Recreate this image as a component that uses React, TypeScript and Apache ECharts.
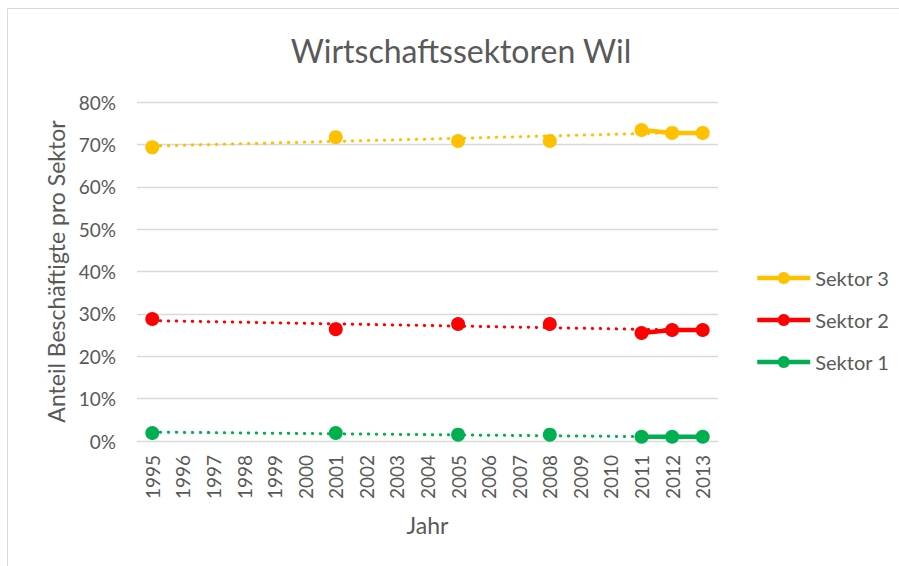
import React, { useEffect, useRef } from "react";
import * as echarts from "echarts";

const years = ["1995","1996","1997","1998","1999","2000","2001","2002","2003","2004","2005","2006","2007","2008","2009","2010","2011","2012","2013"];
const sektor3 = [69.3,null,null,null,null,null,71.7,null,null,null,70.8,null,null,70.8,null,null,73.4,72.7,72.7];
const sektor2 = [28.8,null,null,null,null,null,26.4,null,null,null,27.6,null,null,27.6,null,null,25.5,26.2,26.2];
const sektor1 = [1.9,null,null,null,null,null,1.9,null,null,null,1.5,null,null,1.5,null,null,1.0,1.0,1.0];
// trendline endpoints (1995, 2013)
const trend3 = [69.6, 72.9];
const trend2 = [28.4, 26.1];
const trend1 = [2.1, 0.9];
const yTicks = [0, 80, 10];

const FONT = "Lato";
const TXT = "#595959";

function trendData(t: number[]) {
  return years.map((_, i) => (i === 0 ? t[0] : i === years.length - 1 ? t[1] : null));
}

export default function App() {
  const ref = useRef<HTMLDivElement>(null);
  useEffect(() => {
    document.body.style.margin = "0";
    const chart = echarts.init(ref.current!, null, { renderer: "svg" });
    const mainSeries = (name: string, data: any[], color: string) => ({
      name,
      type: "line",
      data,
      connectNulls: false,
      symbol: "circle",
      symbolSize: 14,
      showAllSymbol: true,
      z: 5,
      itemStyle: { color },
      lineStyle: { color, width: 4.5 },
    });
    const trendSeries = (name: string, t: number[], color: string) => ({
      name,
      type: "line",
      data: trendData(t),
      connectNulls: true,
      symbol: "none",
      silent: true,
      z: 3,
      lineStyle: { color, width: 3, type: [0.5, 7.5], cap: "round" },
    });
    chart.setOption({
      animation: false,
      backgroundColor: "#fff",
      title: {
        text: "Wirtschaftssektoren Wil",
        left: 456,
        textAlign: "center",
        top: 29,
        textStyle: { fontFamily: FONT, fontSize: 32, fontWeight: "normal", color: TXT },
      },
      graphic: [
        {
          type: "rect",
          shape: { x: 7.5, y: 8.5, width: 1000, height: 600 },
          style: { fill: "none", stroke: "#d9d9d9", lineWidth: 1 },
          silent: true,
        },
      ],
      legend: {
        data: ["Sektor 3", "Sektor 2", "Sektor 1"],
        orient: "vertical",
        left: 750,
        top: 263,
        itemWidth: 53,
        itemHeight: 15,
        itemGap: 22,
        itemStyle: { borderWidth: 0 },
        lineStyle: { width: 4.5 },
        textStyle: { fontFamily: FONT, fontSize: 20, color: TXT },
      },
      grid: { left: 137, right: 181, top: 102, bottom: 125, containLabel: false },
      xAxis: {
        type: "category",
        data: years,
        boundaryGap: true,
        name: "Jahr",
        nameLocation: "middle",
        nameGap: 72,
        nameTextStyle: { fontFamily: FONT, fontSize: 23, color: TXT },
        axisLine: { show: true, lineStyle: { color: "#d9d9d9", width: 1 } },
        axisTick: { show: false },
        axisLabel: { rotate: 90, interval: 0, margin: 14, fontFamily: FONT, fontSize: 19, color: TXT },
      },
      yAxis: {
        type: "value",
        min: yTicks[0],
        max: yTicks[1],
        interval: yTicks[2],
        name: "Anteil Beschäftigte pro Sektor",
        nameLocation: "middle",
        nameGap: 66,
        nameTextStyle: { fontFamily: FONT, fontSize: 23, color: TXT },
        axisLine: { show: false },
        axisTick: { show: false },
        axisLabel: { formatter: "{value}%", margin: 21, fontFamily: FONT, fontSize: 19, color: TXT },
        splitLine: { lineStyle: { color: "#d9d9d9", width: 1.3 } },
      },
      series: [
        trendSeries("trend3", trend3, "#FFC000"),
        trendSeries("trend2", trend2, "#FF0000"),
        trendSeries("trend1", trend1, "#00B050"),
        mainSeries("Sektor 3", sektor3, "#FFC000"),
        mainSeries("Sektor 2", sektor2, "#FF0000"),
        mainSeries("Sektor 1", sektor1, "#00B050"),
      ],
    });
    return () => chart.dispose();
  }, []);
  return <div ref={ref} style={{ width: 899, height: 566 }} />;
}
